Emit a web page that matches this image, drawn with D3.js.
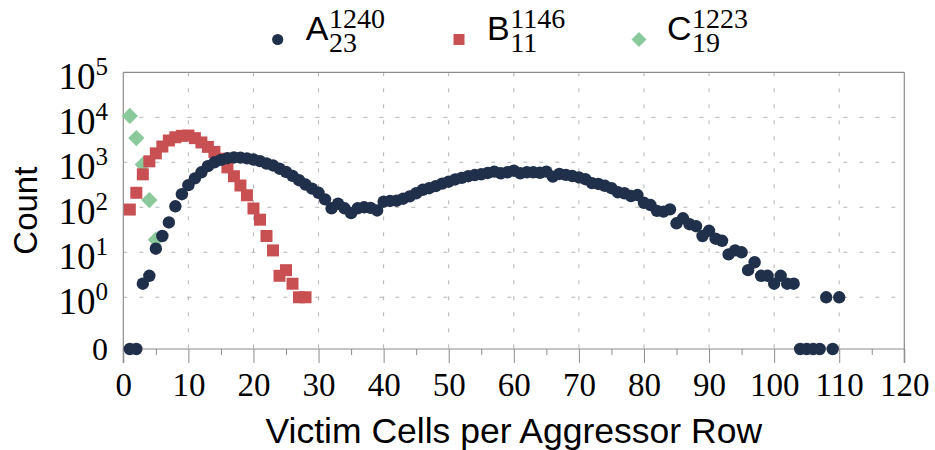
<!DOCTYPE html>
<html>
<head>
<meta charset="utf-8">
<script src="https://cdn.jsdelivr.net/npm/d3@7"></script>
<style>
  body { margin: 0; background: #fff; }
  svg { display: block; }
  .serif { font-family: "Liberation Serif", "Times New Roman", Tinos, "Nimbus Roman", "DejaVu Serif", serif; }
  .sans { font-family: "Liberation Sans", Arial, Arimo, sans-serif; }
</style>
</head>
<body>
<svg id="chart" width="935" height="450"></svg>
<script>
// Number of victim cells per aggressor row (x = 1, 2, 3, ...)
const countsA = [
  0, 0, 2, 3, 12, 23, 46, 105, 195, 310,
  440, 600, 820, 1000, 1130, 1230, 1280, 1270, 1220, 1150,
  1060, 940, 850, 720, 610, 500, 400, 320, 260, 210,
  150, 95, 120, 95, 74, 95, 100, 97, 85, 133,
  138, 140, 155, 175, 205, 245, 265, 295, 335, 370,
  415, 450, 490, 520, 540, 580, 620, 570, 600, 650,
  570, 600, 600, 585, 620, 480, 550, 525, 495, 460,
  420, 345, 330, 300, 265, 215, 205, 178, 187, 126,
  112, 83, 80, 90, 44, 57, 42, 38, 23, 30,
  20, 18, 9, 11, 10, 4, 6, 3, 3, 2,
  3, 2, 2, 0, 0, 0, 0, 1, 0, 1
];
const countsB = [
  89, 210, 540, 1050, 1580, 2240, 3050, 3600, 3870, 3930,
  3440, 2760, 2200, 1700, 1200, 770, 490, 305, 185, 94,
  53, 23, 11, 3, 4, 2, 1, 1
];
const countsC = [10700, 3450, 890, 145, 19];

const seriesNames = ["A", "B", "C"];
const seriesSup = ["1240", "1146", "1223"];
const seriesSub = ["23", "11", "19"];
const seriesColors = ["#20304a", "#c85052", "#89c99b"];

const xTicks = [0, 10, 20, 30, 40, 50, 60, 70, 80, 90, 100, 110, 120];
const xMinorTicks = [5, 15, 25, 35, 45, 55, 65, 75, 85, 95, 105, 115];
const yExponents = [0, 1, 2, 3, 4, 5];

// ---- layout ----
const plot = { left: 123.3, right: 904.3, top: 72.3, bottom: 349 };
const zeroDecades = -1.15;          // zero counts sit this many decades below 10^0
const axisColor = "#8c8c8c";
const gridColor = "#b4b4b4";

const svg = d3.select("#chart");

const x = d3.scaleLinear().domain([0, 120]).range([plot.left, plot.right]);
const yScale = d3.scaleLog()
  .domain([Math.pow(10, zeroDecades), 1e5])
  .range([plot.bottom, plot.top]);
const y = v => yScale(Math.max(v, yScale.domain()[0]));

const toPoints = arr => arr.map((v, i) => ({ x: i + 1, v }));

// ---- grid ----
const grid = svg.append("g")
  .attr("stroke", gridColor)
  .attr("stroke-width", 1)
  .attr("stroke-dasharray", "4,12");

grid.selectAll("line.h")
  .data(yExponents.filter(e => e < 5))
  .join("line")
  .attr("x1", plot.left).attr("x2", plot.right)
  .attr("y1", e => yScale(Math.pow(10, e)))
  .attr("y2", e => yScale(Math.pow(10, e)));

grid.selectAll("line.v")
  .data(xTicks.filter(t => t > 0 && t < 120))
  .join("line")
  .attr("x1", d => x(d)).attr("x2", d => x(d))
  .attr("y1", plot.top).attr("y2", plot.bottom);

// ---- x axis ----
const xAxis = svg.append("g")
  .attr("transform", `translate(0,${plot.bottom})`)
  .call(d3.axisBottom(x).tickValues(xTicks).tickSize(14).tickFormat(d3.format("d")));
xAxis.attr("font-family", null).attr("font-size", null);
xAxis.select(".domain").remove();
xAxis.selectAll(".tick line").attr("stroke", axisColor);
xAxis.selectAll(".tick text")
  .attr("class", "serif")
  .attr("y", 47).attr("dy", 0)
  .attr("fill", "#000")
  .style("font-size", "33px");

const xMinor = svg.append("g")
  .attr("transform", `translate(0,${plot.bottom})`)
  .call(d3.axisBottom(x).tickValues(xMinorTicks).tickSize(6).tickFormat(""));
xMinor.select(".domain").remove();
xMinor.selectAll(".tick line").attr("stroke", axisColor);

// ---- frame ----
const frame = svg.append("g").attr("stroke", axisColor).attr("stroke-width", 1.2).attr("fill", "none");
frame.append("line").attr("x1", plot.left).attr("x2", plot.right).attr("y1", plot.top).attr("y2", plot.top);
frame.append("line").attr("x1", plot.left).attr("x2", plot.right).attr("y1", plot.bottom).attr("y2", plot.bottom);
frame.append("line").attr("x1", plot.left).attr("x2", plot.left).attr("y1", plot.top).attr("y2", plot.bottom + 14);
frame.append("line").attr("x1", plot.right).attr("x2", plot.right).attr("y1", plot.top).attr("y2", plot.bottom + 14);

// ---- y tick labels: 0, 10^0 ... 10^5 ----
const yLabels = svg.append("g").attr("fill", "#000");
yLabels.append("text")
  .attr("class", "serif")
  .attr("x", 108).attr("y", y(0) + 11)
  .attr("text-anchor", "end")
  .style("font-size", "32px")
  .text("0");
yExponents.forEach(e => {
  const t = yLabels.append("text")
    .attr("class", "serif")
    .attr("x", 108)
    .attr("y", yScale(Math.pow(10, e)) + 17)
    .attr("text-anchor", "end")
    .style("font-size", "37px");
  t.append("tspan").text("10");
  t.append("tspan").attr("dy", -14.5).style("font-size", "25px").text(String(e));
});

// ---- axis titles ----
svg.append("text")
  .attr("class", "sans")
  .attr("transform", `translate(37,${(plot.top + plot.bottom) / 2}) rotate(-90)`)
  .attr("text-anchor", "middle")
  .style("font-size", "33px")
  .text("Count");

svg.append("text")
  .attr("class", "sans")
  .attr("x", (plot.left + plot.right) / 2).attr("y", 443)
  .attr("text-anchor", "middle")
  .style("font-size", "35.5px")
  .text("Victim Cells per Aggressor Row");

// ---- marks (C at the back, A on top) ----
const diamond = d3.symbol().type(d3.symbolSquare).size(132);
const square = d3.symbol().type(d3.symbolSquare).size(144);

svg.append("g").selectAll("path")
  .data(toPoints(countsC))
  .join("path")
  .attr("d", diamond)
  .attr("fill", seriesColors[2])
  .attr("transform", d => `translate(${x(d.x)},${y(d.v)}) rotate(45)`);

svg.append("g").selectAll("path")
  .data(toPoints(countsB))
  .join("path")
  .attr("d", square)
  .attr("fill", seriesColors[1])
  .attr("transform", d => `translate(${x(d.x)},${y(d.v)})`);

svg.append("g").selectAll("circle")
  .data(toPoints(countsA))
  .join("circle")
  .attr("cx", d => x(d.x))
  .attr("cy", d => y(d.v))
  .attr("r", 6.2)
  .attr("fill", seriesColors[0]);

// ---- legend ----
const legendX = [277.7, 459, 639];
const legendY = 39.5;
const legend = svg.append("g");
seriesNames.forEach((name, i) => {
  const g = legend.append("g");
  const mx = legendX[i];
  if (i === 0) {
    g.append("circle").attr("cx", mx).attr("cy", legendY).attr("r", 5.6).attr("fill", seriesColors[0]);
  } else if (i === 1) {
    g.append("path").attr("d", d3.symbol().type(d3.symbolSquare).size(121)())
      .attr("fill", seriesColors[1]).attr("transform", `translate(${mx},${legendY})`);
  } else {
    g.append("path").attr("d", d3.symbol().type(d3.symbolSquare).size(112)())
      .attr("fill", seriesColors[2]).attr("transform", `translate(${mx},${legendY}) rotate(45)`);
  }
  const letter = g.append("text")
    .attr("class", "sans")
    .attr("x", mx + 28).attr("y", 39.5)
    .style("font-size", "34px")
    .text(name);
  const sx = mx + 28 + letter.node().getComputedTextLength() + 0.5;
  // stacked super/subscript in one text element
  const scripts = g.append("text")
    .attr("class", "serif")
    .attr("x", sx).attr("y", 27.5)
    .style("font-size", "28px");
  scripts.append("tspan").attr("x", sx).text(seriesSup[i]);
  scripts.append("tspan").attr("x", sx).attr("dy", 24.5).text(seriesSub[i]);
});
</script>
</body>
</html>
